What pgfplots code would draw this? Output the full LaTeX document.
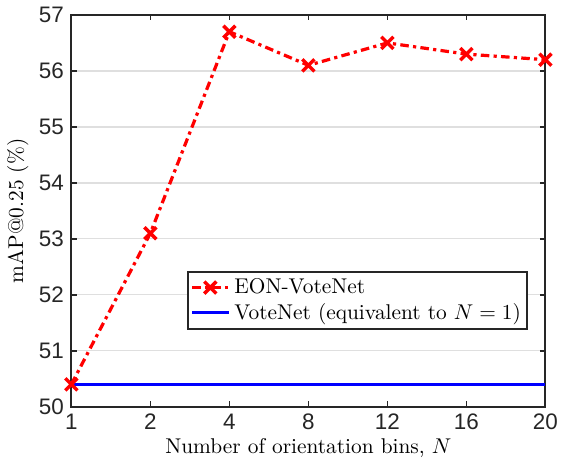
\documentclass[border=0pt]{standalone}
\usepackage{fontspec}
\usepackage{pgfplots}
\pgfplotsset{compat=1.18}
\newfontfamily\ticksans{Liberation Sans}
\definecolor{EonRed}{HTML}{FF0000}
\definecolor{VoteBlue}{HTML}{0000FF}
\definecolor{AxInk}{HTML}{262626}
\definecolor{GridGray}{HTML}{DFDFDF}
\begin{document}
\begin{tikzpicture}
\begin{axis}[
  scale only axis,
  width=222pt, height=183.5pt,
  xmin=0, xmax=6,
  ymin=50, ymax=57,
  xtick={0,1,2,3,4,5,6},
  xticklabels={1,2,4,8,12,16,20},
  ytick={50,51,52,53,54,55,56,57},
  tick align=inside,
  major tick length=2.5pt,
  axis line style={draw=AxInk,line width=1pt},
  every tick/.style={draw=AxInk,line width=0.8pt},
  tick label style={font=\fontsize{10.5}{12}\ticksans,text=AxInk},
  /pgf/number format/assume math mode=true,
  ymajorgrids=true,
  grid style={draw=GridGray,line width=0.6pt},
  xlabel={Number of orientation bins, $N$},
  ylabel={mAP@0.25 (\%)},
  label style={font=\fontsize{10}{12}\selectfont},
  xlabel style={yshift=3pt},
  ylabel style={yshift=-2pt},
  legend style={at={(0.245,0.346)},anchor=north west,draw=AxInk,line width=0.8pt,
    font=\fontsize{10}{12}\selectfont,inner sep=1pt,row sep=-1pt},
  legend cell align=left,
  legend image post style={line width=1.5pt},
  clip=false
]
\addplot[color=EonRed,line width=1.5pt,dash pattern=on 4pt off 2pt on 1.5pt off 2pt,
  mark=x,mark size=4pt,mark options={solid,line width=1.6pt}]
  coordinates {(0,50.4) (1,53.1) (2,56.7) (3,56.1) (4,56.5) (5,56.3) (6,56.2)};
\addlegendentry{EON-VoteNet}
\addplot[color=VoteBlue,line width=1.5pt] coordinates {(0,50.4) (6,50.4)};
\addlegendentry{VoteNet (equivalent to $N=1$)}
\end{axis}
\end{tikzpicture}
\end{document}
